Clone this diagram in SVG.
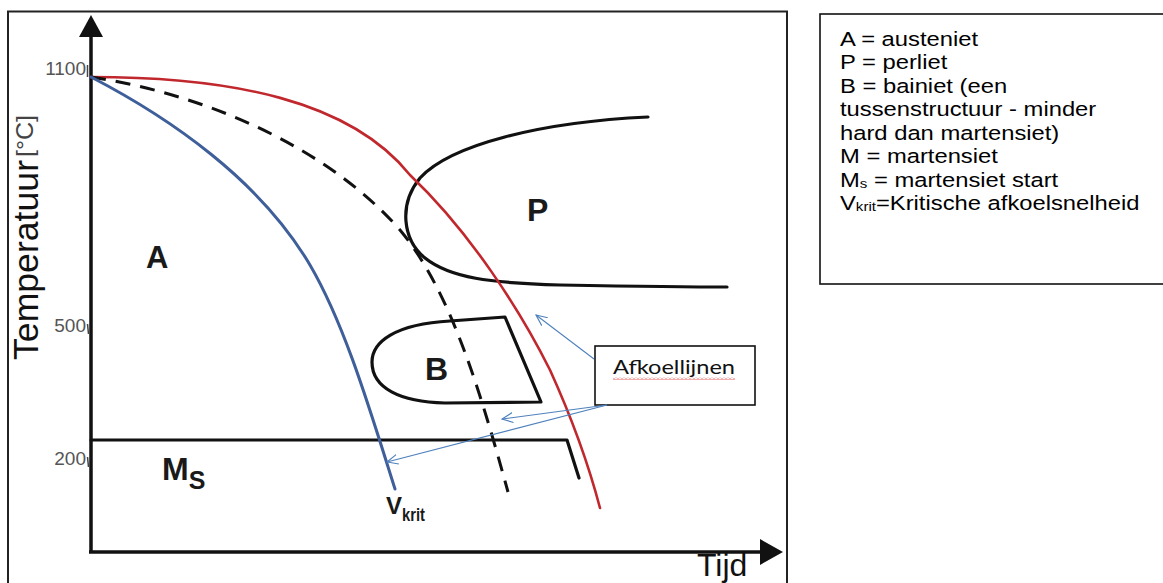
<svg xmlns="http://www.w3.org/2000/svg" width="1163" height="583" viewBox="0 0 1163 583">
  <style>
    .ax{stroke:#111;stroke-width:3.5;fill:none}
    .blk{stroke:#111;stroke-width:3.2;fill:none;stroke-linejoin:round;stroke-linecap:round}
    .lbl{font-family:"Liberation Sans",Arial,sans-serif;font-weight:bold;fill:#1a1a1a}
    .tick{font-family:"Liberation Sans",Arial,sans-serif;font-size:19px;fill:#555;text-anchor:end}
    .leg{font-family:"Liberation Sans",Arial,sans-serif;font-size:20.5px;fill:#000}
    .conn{stroke:#4f81bd;stroke-width:1.1;fill:none}
  </style>
  <defs>
    <marker id="ah" viewBox="0 0 12 12" refX="11" refY="6" markerWidth="12" markerHeight="12" orient="auto" markerUnits="userSpaceOnUse">
      <path d="M0,1 L11,6 L0,11" fill="none" stroke="#4f81bd" stroke-width="1.1"/>
    </marker>
    <pattern id="wave" width="4" height="3" patternUnits="userSpaceOnUse">
      <polyline points="0,2.5 2,0.5 4,2.5" fill="none" stroke="#e03030" stroke-width="0.8"/>
    </pattern>
  </defs>
  <rect width="1163" height="583" fill="#fff"/>

  <g id="frame">
    <path d="M8,583 L8,11.5 L787,11.5 L787,583" fill="none" stroke="#222" stroke-width="2"/>
  </g>

  <g id="axes">
    <line class="ax" x1="91" y1="34" x2="91" y2="552"/>
    <polygon points="91,15 79,37 103,37" fill="#111"/>
    <line class="ax" x1="89" y1="552" x2="762" y2="552"/>
    <polygon points="783,552 760,539 760,565" fill="#111"/>
    <line x1="87.5" y1="65" x2="87.5" y2="77" stroke="#444" stroke-width="1.5"/>
    <line x1="87.5" y1="324" x2="88.5" y2="334" stroke="#444" stroke-width="1.5"/>
    <line x1="87.5" y1="457" x2="88.5" y2="467" stroke="#444" stroke-width="1.5"/>
    <text class="tick" x="86" y="75">1100</text>
    <text class="tick" x="86" y="332">500</text>
    <text class="tick" x="86" y="465">200</text>
    <text transform="translate(38,360) rotate(-90)" font-family="'Liberation Sans',Arial,sans-serif" font-size="35" fill="#111" textLength="200" lengthAdjust="spacingAndGlyphs">Temperatuur</text>
    <text transform="translate(33,157) rotate(-90)" font-family="'Liberation Sans',Arial,sans-serif" font-size="24" fill="#444" textLength="42" lengthAdjust="spacingAndGlyphs">[°C]</text>
    <text x="697" y="576" font-family="'Liberation Sans',Arial,sans-serif" font-size="32" fill="#111">Tijd</text>
  </g>

  <g id="pearlite">
    <path class="blk" d="M648,117 C540,122 450,145 420,178 C398,205 403,240 425,258 C450,278 490,283 560,285 C620,286 680,287 727,287"/>
    <text class="lbl" x="527" y="221" font-size="32">P</text>
  </g>

  <g id="bainite">
    <path class="blk" stroke-width="3.5" d="M505,317 L450,321 C395,324 372,342 372,362 C372,388 400,402 445,403 L541,402 Z"/>
    <text class="lbl" x="425" y="380" font-size="32">B</text>
  </g>

  <g id="ms-line">
    <path class="blk" stroke-width="3.5" d="M91,440 L567,440 L579,478"/>
    <text class="lbl" x="162" y="480" font-size="32">M<tspan font-size="25" dy="9">S</tspan></text>
  </g>

  <g id="austenite">
    <text class="lbl" x="146" y="268" font-size="31">A</text>
  </g>

  <g id="cooling-curves">
    <path d="M91,77 C230,77 350,100 410,175 C470,232 520,310 550,370 C575,425 590,470 600,508" fill="none" stroke="#c0282d" stroke-width="2.6" stroke-linecap="round"/>
    <path d="M91,77 C210,95 330,150 400,230 C450,290 480,390 508,492" fill="none" stroke="#111" stroke-width="3" stroke-dasharray="15 10"/>
    <path d="M91,77 C170,118 260,180 310,265 C345,325 370,410 395,489" fill="none" stroke="#3f5f9a" stroke-width="3" stroke-linecap="round"/>
  </g>

  <g id="vkrit">
    <text class="lbl" x="386" y="514" font-size="24">V<tspan font-size="18" dy="7" textLength="23" lengthAdjust="spacingAndGlyphs">krit</tspan></text>
  </g>

  <g id="afkoellijnen">
    <rect x="595" y="346" width="160" height="59" fill="#fff" stroke="#111" stroke-width="1.6"/>
    <text x="613" y="374" font-family="Lato,'Open Sans',sans-serif" font-size="19" fill="#111" textLength="122" lengthAdjust="spacingAndGlyphs">Afkoellijnen</text>
    <rect x="613" y="377" width="122" height="3" fill="url(#wave)"/>
  </g>

  <g id="connectors">
    <line class="conn" x1="594" y1="359" x2="536" y2="315" marker-end="url(#ah)"/>
    <line class="conn" x1="607" y1="405" x2="502" y2="419" marker-end="url(#ah)"/>
    <line class="conn" x1="607" y1="405" x2="387" y2="462" marker-end="url(#ah)"/>
  </g>

  <g id="legend">
    <rect x="820" y="14" width="360" height="270" fill="#fff" stroke="#111" stroke-width="1.6"/>
    <g class="leg" transform="translate(840,0) scale(1.16,1)">
      <text x="0" y="46">A = austeniet</text>
      <text x="0" y="69.5">P = perliet</text>
      <text x="0" y="93">B = bainiet (een</text>
      <text x="0" y="116.5">tussenstructuur - minder</text>
      <text x="0" y="140">hard dan martensiet)</text>
      <text x="0" y="163.5">M = martensiet</text>
      <text x="0" y="187">M<tspan font-size="13" dy="1">s</tspan><tspan dy="-1"> = martensiet start</tspan></text>
      <text x="0" y="210.5">V<tspan font-size="13" dy="1">krit</tspan><tspan dy="-1">=Kritische afkoelsnelheid</tspan></text>
    </g>
  </g>
</svg>
